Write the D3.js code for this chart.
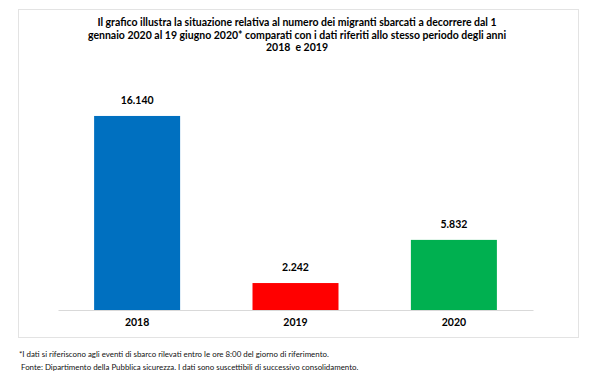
<!DOCTYPE html>
<html>
<head>
<meta charset="utf-8">
<script src="https://cdn.jsdelivr.net/npm/d3@7"></script>
<style>
	body { margin: 0; background: #fff; }
	svg { display: block; font-family: Lato, "Open Sans", sans-serif; }
</style>
</head>
<body>
<div id="chart"></div>
<script>
	// data
	const years = ["2018", "2019", "2020"];
	const sbarcati = [16140, 2242, 5832];
	const barColors = ["#0070C0", "#FF0000", "#00B050"];

	const titleLines = [
		"Il grafico illustra la situazione relativa al numero dei migranti sbarcati a decorrere dal 1",
		"gennaio 2020 al 19 giugno 2020* comparati con i dati riferiti allo stesso periodo degli anni",
		"2018  e 2019"
	];
	const noteLines = [
		"*I dati si riferiscono agli eventi di sbarco rilevati entro le ore 8:00 del giorno di riferimento.",
		" Fonte: Dipartimento della Pubblica sicurezza. I dati sono suscettibili di successivo consolidamento."
	];

	const width = 600;
	const height = 375;

	const it = d3.formatLocale({decimal: ",", thousands: ".", grouping: [3], currency: ["€", ""]});
	const fmt = it.format(",d");

	const svg = d3.select("#chart")
		.append("svg")
		.attr("width", width)
		.attr("height", height);

	// chart frame
	svg.append("rect")
		.attr("x", 18.5)
		.attr("y", 9.5)
		.attr("width", 560)
		.attr("height", 328)
		.style("fill", "#fff")
		.style("stroke", "#e3e3e3");

	svg.append("g")
		.selectAll("text")
		.data(titleLines)
		.enter().append("text")
		.attr("x", 297)
		.attr("y", (d, i) => 26 + i * 12.6)
		.attr("text-anchor", "middle")
		.style("font-size", "10.5px")
		.style("font-weight", "bold")
		.style("fill", "#000")
		.style("white-space", "pre")
		.text(d => d);

	let x = d3.scaleBand()
		.domain(years)
		.range([58, 533])
		.paddingInner(0.457)
		.paddingOuter(0.228);

	let y = d3.scaleLinear()
		.domain([0, 18000])
		.range([310, 93.6]);

	let bars = svg.append("g");

	bars.selectAll("rect")
		.data(years)
		.enter().append("rect")
		.attr("x", d => x(d))
		.attr("width", x.bandwidth())
		.attr("y", (d, i) => y(sbarcati[i]))
		.attr("height", (d, i) => y(0) - y(sbarcati[i]))
		.style("fill", (d, i) => barColors[i]);

	bars.selectAll("text")
		.data(years)
		.enter().append("text")
		.attr("x", d => x(d) + x.bandwidth() / 2)
		.attr("y", (d, i) => y(sbarcati[i]) - 12)
		.attr("text-anchor", "middle")
		.style("font-size", "10.5px")
		.style("font-weight", "bold")
		.style("fill", "#000")
		.text((d, i) => fmt(sbarcati[i]));

	let xAxis = d3.axisBottom().scale(x).tickSize(0).tickPadding(9);
	let gx = svg.append("g")
		.attr("class", "x axis")
		.attr("transform", "translate(0," + 310 + ")")
		.call(xAxis);
	gx.select(".domain").style("stroke", "#d9d9d9");
	gx.selectAll("text")
		.style("font-family", "Lato, sans-serif")
		.style("font-size", "10.5px")
		.style("font-weight", "bold")
		.style("fill", "#000");

	svg.append("g")
		.selectAll("text")
		.data(noteLines)
		.enter().append("text")
		.attr("x", 19)
		.attr("y", (d, i) => 357 + i * 12.5)
		.style("font-size", "7.9px")
		.style("fill", "#111")
		.style("white-space", "pre")
		.text(d => d);
</script>
</body>
</html>
